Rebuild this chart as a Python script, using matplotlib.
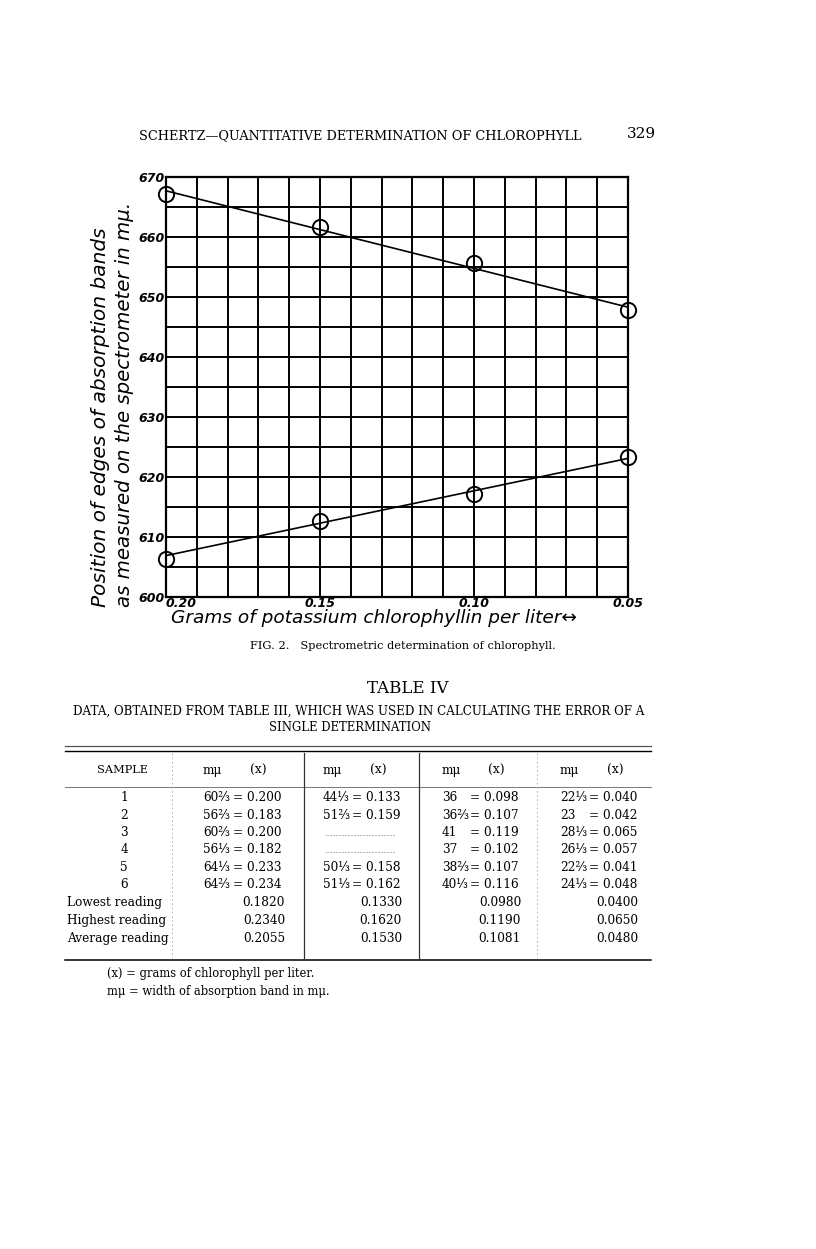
import numpy as np
import matplotlib
matplotlib.use('Agg')
import matplotlib.pyplot as plt

# --- chart data ---
conc = [0.20, 0.15, 0.10, 0.05]            # g potassium chlorophyllin per liter
upper_edge = [667.1, 661.7, 655.7, 647.8]  # upper band edge, mμ
lower_edge = [606.3, 612.6, 617.2, 623.3]  # lower band edge, mμ
line_x = [0.20, 0.05]
upper_line = [667.7, 648.3]                # drawn straight lines
lower_line = [606.9, 623.1]
x_ticks = [0.20, 0.15, 0.10, 0.05]
x_tick_labels = ['0.20', '0.15', '0.10', '0.05']
y_ticks = [600, 610, 620, 630, 640, 650, 660, 670]

# --- table IV data ---
samples = ['1', '2', '3', '4', '5', '6']
col1_mu = ['60⅔', '56⅔', '60⅔', '56⅓', '64⅓', '64⅔']
col1_x = ['0.200', '0.183', '0.200', '0.182', '0.233', '0.234']
col2_mu = ['44⅓', '51⅔', None, None, '50⅓', '51⅓']
col2_x = ['0.133', '0.159', None, None, '0.158', '0.162']
col3_mu = ['36', '36⅔', '41', '37', '38⅔', '40⅓']
col3_x = ['0.098', '0.107', '0.119', '0.102', '0.107', '0.116']
col4_mu = ['22⅓', '23', '28⅓', '26⅓', '22⅔', '24⅓']
col4_x = ['0.040', '0.042', '0.065', '0.057', '0.041', '0.048']
summary_names = ['Lowest reading', 'Highest reading', 'Average reading']
lowest = ['0.1820', '0.1330', '0.0980', '0.0400']
highest = ['0.2340', '0.1620', '0.1190', '0.0650']
average = ['0.2055', '0.1530', '0.1081', '0.0480']

W, H = 816, 1249
SERIF = ['DejaVu Serif']
HAND = ['DejaVu Sans']

fig = plt.figure(figsize=(W / 100, H / 100), dpi=100)

# page axes in pixel coordinates for the printed text and table
page = fig.add_axes([0, 0, 1, 1])
page.set_xlim(0, W)
page.set_ylim(H, 0)
page.axis('off')

# running head
page.text(139, 136, 'SCHERTZ—QUANTITATIVE DETERMINATION OF CHLOROPHYLL',
          family=SERIF, fontsize=9.3, ha='left', va='center')
page.text(656, 134, '329', family=SERIF, fontsize=11, ha='right', va='center')

# --- the graph ---
L, R, T, B = 166, 628, 177, 597
ax = fig.add_axes([L / W, 1 - B / H, (R - L) / W, (B - T) / H])
ax.set_xlim(0.20, 0.05)
ax.set_ylim(600, 670)
ax.set_xticks(x_ticks)
ax.set_xticks(np.arange(0.05, 0.2001, 0.01), minor=True)
ax.set_yticks(y_ticks)
ax.set_yticks(np.arange(600, 671, 5), minor=True)
ax.grid(True, which='both', color='black', lw=1.4)
for s in ax.spines.values():
    s.set_linewidth(1.6)
ax.tick_params(which='both', length=0)
ax.tick_params(axis='x', pad=0)
ax.tick_params(axis='y', pad=1)
ax.set_xticklabels(x_tick_labels, family=HAND, style='italic', fontweight='bold', fontsize=9)
ax.set_yticklabels([str(v) for v in y_ticks], family=HAND, style='italic', fontweight='bold', fontsize=9)
xl = ax.get_xticklabels()
xl[0].set_ha('left')

ax.plot(line_x, upper_line, color='black', lw=1.2, zorder=3)
ax.plot(line_x, lower_line, color='black', lw=1.2, zorder=3)
for ys in (upper_edge, lower_edge):
    ax.plot(conc, ys, 'o', ms=11, mfc='none', mec='black', mew=1.4, clip_on=False, zorder=4)

page.text(171, 618, 'Grams of potassium chlorophyllin per liter↔',
          family=HAND, style='italic', fontsize=13.3, ha='left', va='center')
page.text(101, 607, 'Position of edges of absorption bands', rotation=90,
          family=HAND, style='italic', fontsize=14.5, ha='center', va='bottom')
page.text(125, 607, 'as measured on the spectrometer in mμ.', rotation=90,
          family=HAND, style='italic', fontsize=14.2, ha='center', va='bottom')

page.text(403, 646, 'FIG. 2.   Spectrometric determination of chlorophyll.',
          family=SERIF, fontsize=8.2, ha='center', va='center')

# --- table IV ---
page.text(408, 688, 'TABLE IV', family=SERIF, fontsize=12, ha='center', va='center')
page.text(359, 711, 'DATA, OBTAINED FROM TABLE III, WHICH WAS USED IN CALCULATING THE ERROR OF A',
          family=SERIF, fontsize=8.6, ha='center', va='center')
page.text(350, 727, 'SINGLE DETERMINATION', family=SERIF, fontsize=8.4, ha='center', va='center')

x0, x1 = 65, 651
page.plot([x0, x1], [746, 746], color='#555555', lw=0.9)
page.plot([x0, x1], [751, 751], color='black', lw=1.0)
page.plot([x0, x1], [787, 787], color='#777777', lw=0.7)
page.plot([x0, x1], [960, 960], color='black', lw=1.1)
for vx in (304, 419):
    page.plot([vx, vx], [753, 958], color='#333333', lw=0.9)
for vx in (172, 537):
    page.plot([vx, vx], [753, 958], color='#aaaaaa', lw=0.6, ls=(0, (2, 3)))

FS = 8.7
page.text(122, 770, 'SAMPLE', family=SERIF, fontsize=8.2, ha='center', va='center')
mu_left = [203, 323, 442, 560]
eq_left = [233, 352, 470, 589]
x_hdr = [258, 378, 496, 615]
for ml, xh in zip(mu_left, x_hdr):
    page.text(ml, 770, 'mμ', family=SERIF, fontsize=FS, ha='left', va='center')
    page.text(xh, 770, '(x)', family=SERIF, fontsize=FS, ha='center', va='center')

row_y = [797, 815, 832, 849, 867, 884]
cols = [(col1_mu, col1_x), (col2_mu, col2_x), (col3_mu, col3_x), (col4_mu, col4_x)]
for i, (s, ry) in enumerate(zip(samples, row_y)):
    page.text(124, ry, s, family=SERIF, fontsize=FS, ha='center', va='center')
    for c, (mus, xs) in enumerate(cols):
        if mus[i] is None:
            page.plot([325, 395], [ry + 3, ry + 3], color='#555555', lw=0.6, ls=(0, (0.6, 1.2)))
            continue
        page.text(mu_left[c], ry, mus[i], family=SERIF, fontsize=FS, ha='left', va='center')
        page.text(eq_left[c], ry, '= ' + xs[i], family=SERIF, fontsize=FS, ha='left', va='center')

val_right = [285, 402, 521, 638]
sum_y = [902, 920, 938]
for name, vals, ry in zip(summary_names, [lowest, highest, average], sum_y):
    page.text(67, ry, name, family=SERIF, fontsize=FS, ha='left', va='center')
    for vr, v in zip(val_right, vals):
        page.text(vr, ry, v, family=SERIF, fontsize=FS, ha='right', va='center')

page.text(107, 973, '(x) = grams of chlorophyll per liter.', family=SERIF, fontsize=8.3, ha='left', va='center')
page.text(107, 991, 'mμ = width of absorption band in mμ.', family=SERIF, fontsize=8.3, ha='left', va='center')

fig.savefig('out.png', dpi=100)
